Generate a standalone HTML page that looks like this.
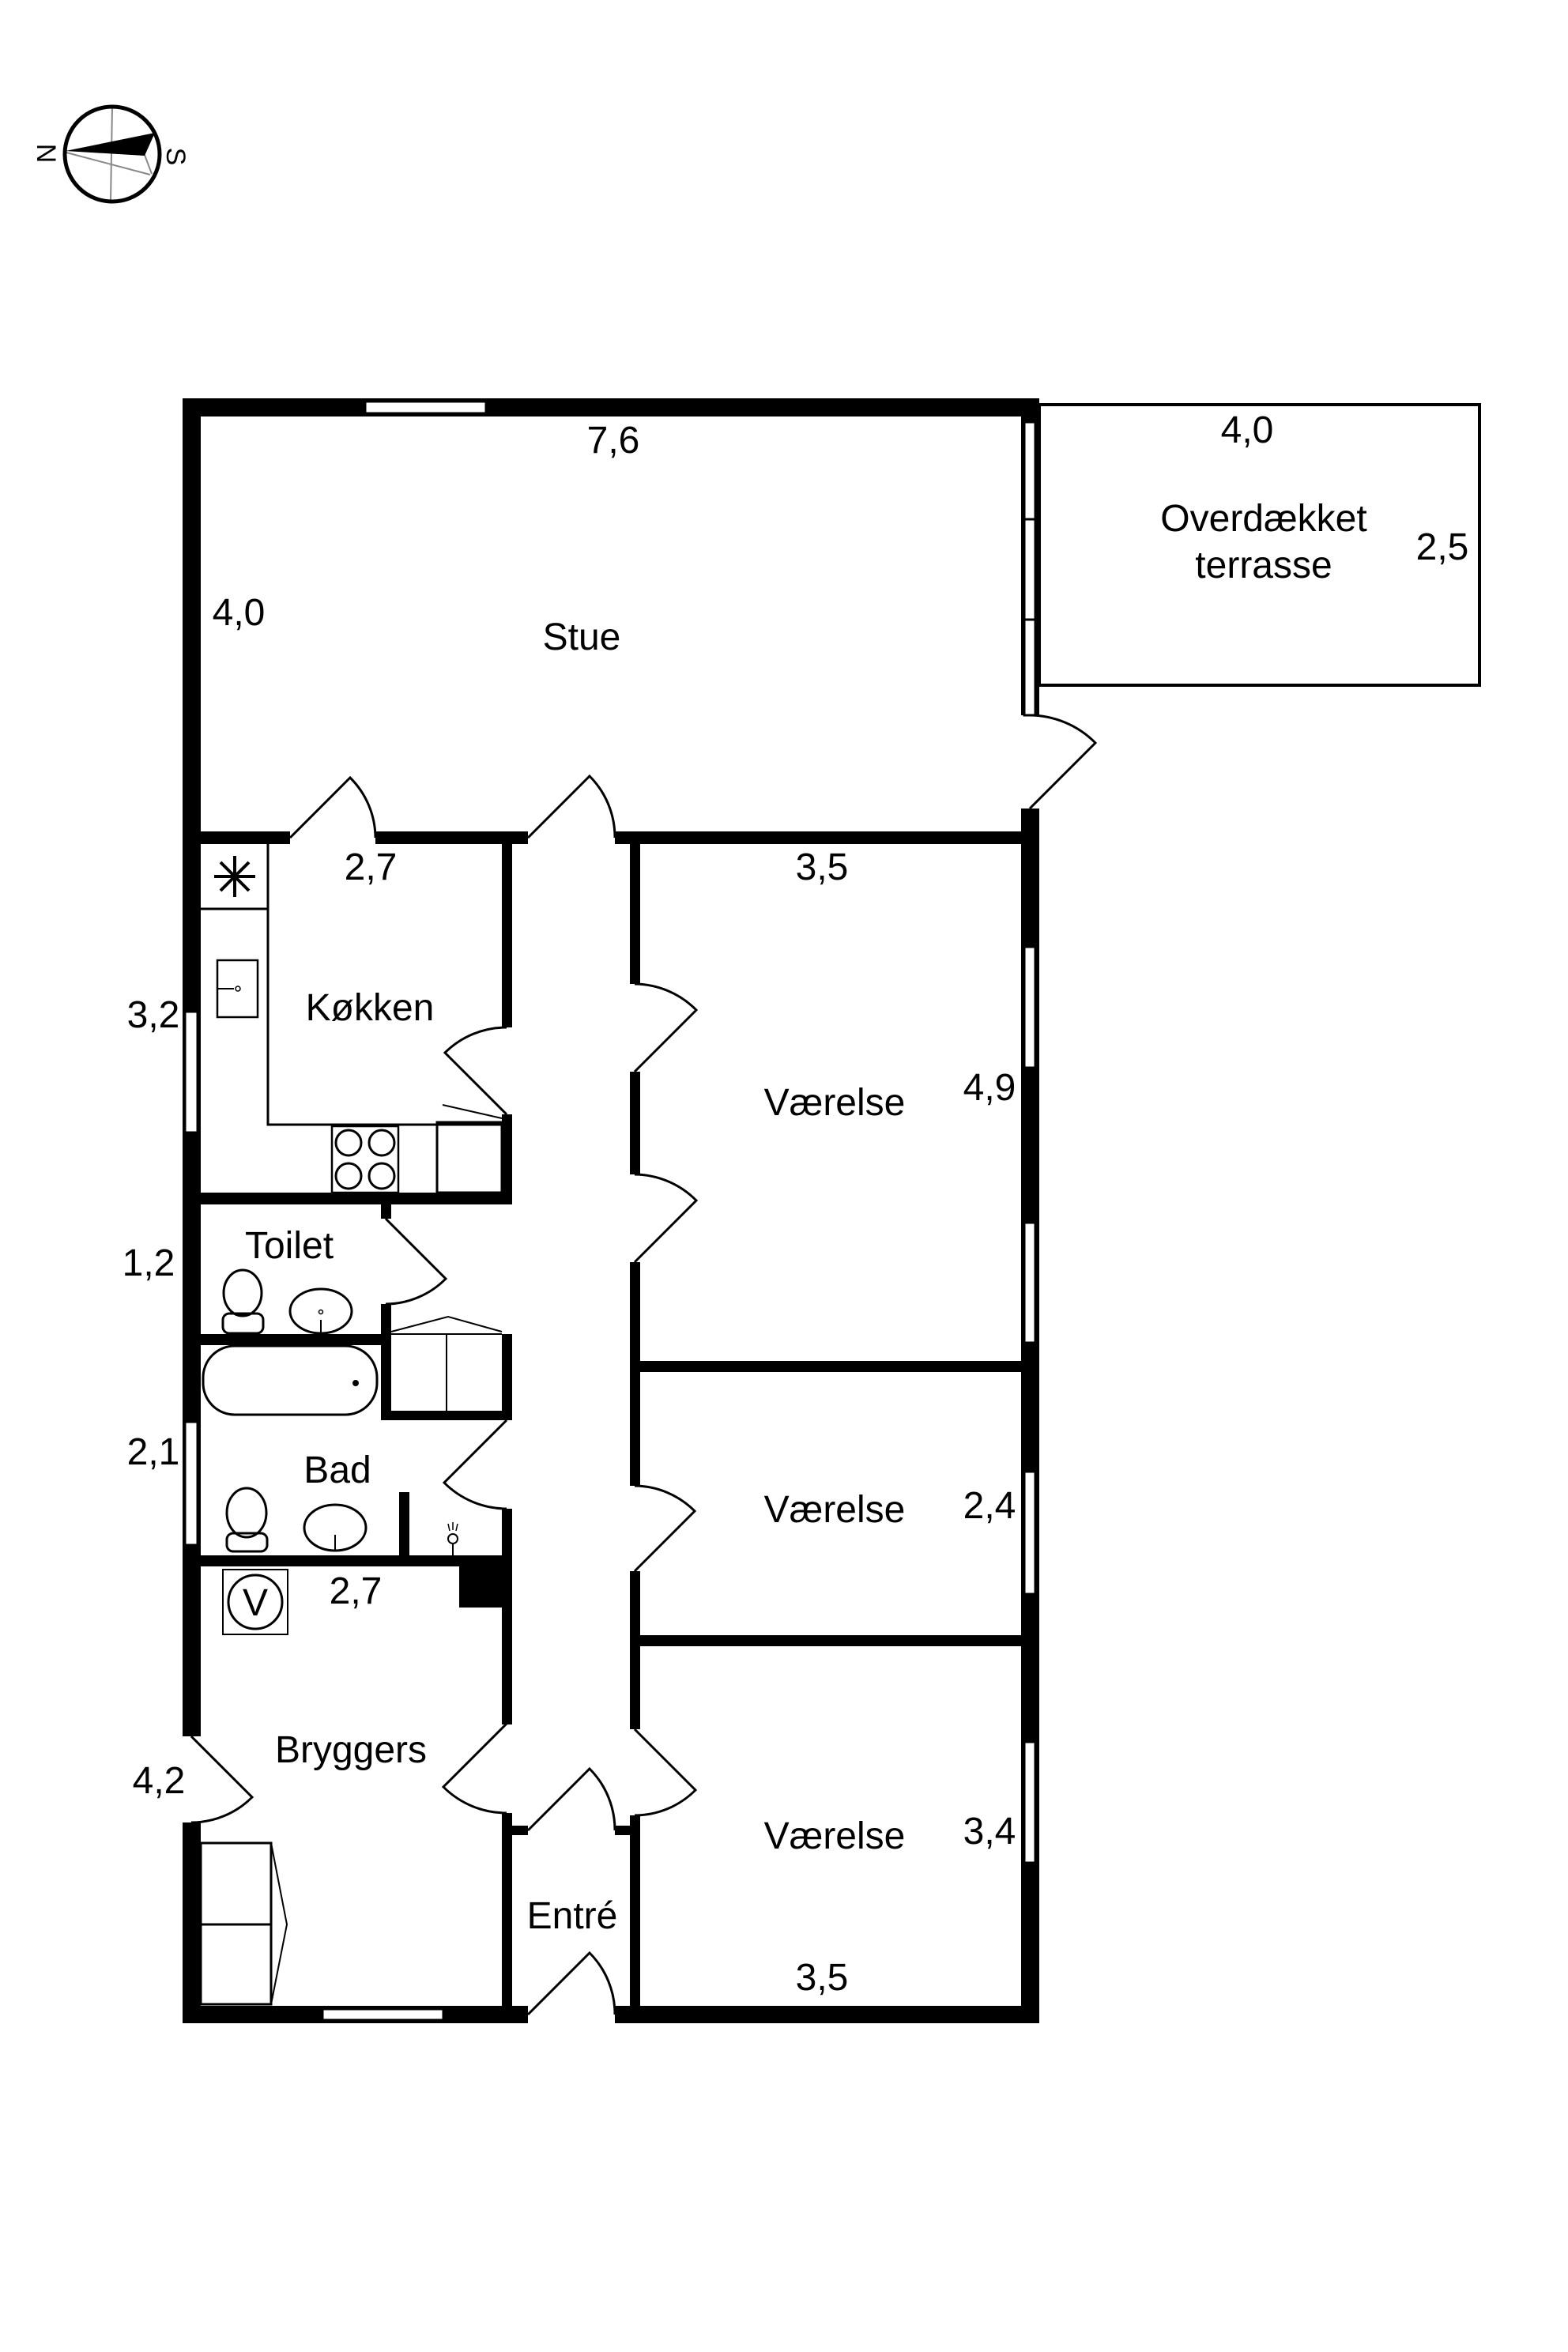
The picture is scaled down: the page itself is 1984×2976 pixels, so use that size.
<!DOCTYPE html>
<html><head><meta charset="utf-8"><style>
html,body{margin:0;padding:0;background:#fff;}
svg{display:block;}
text{font-family:"Liberation Sans",Arial,sans-serif;font-size:48px;fill:#000;text-anchor:middle;}
</style></head><body>
<svg width="1984" height="2976" viewBox="0 0 1984 2976" xmlns="http://www.w3.org/2000/svg">
<rect width="1984" height="2976" fill="#fff"/>

<!-- compass -->
<g>
<line x1="142" y1="135" x2="140" y2="255" stroke="#888" stroke-width="2"/>
<line x1="84" y1="193" x2="190" y2="221" stroke="#888" stroke-width="2"/>
<line x1="183" y1="196" x2="192" y2="220" stroke="#888" stroke-width="2"/>
<polygon points="83,191 196,168 183,197" fill="#000"/>
<circle cx="142" cy="195" r="60" fill="none" stroke="#000" stroke-width="5"/>
<text x="59" y="194" transform="rotate(90 59 194)" style="font-size:34px" dy="12">N</text>
<text x="223" y="198" transform="rotate(90 223 198)" style="font-size:34px" dy="12">S</text>
</g>

<!-- terrace -->
<rect x="1315" y="512" width="557" height="355" fill="none" stroke="#000" stroke-width="4"/>

<g fill="#000">
<rect x="231" y="504" width="1084" height="23"/>
<rect x="231" y="504" width="23" height="1693"/>
<rect x="231" y="2306" width="23" height="254"/>
<rect x="231" y="2538" width="437" height="22"/>
<rect x="778" y="2538" width="537" height="22"/>
<rect x="1292" y="504" width="23" height="401"/>
<rect x="1292" y="1023" width="23" height="1537"/>
<rect x="254" y="1052" width="113" height="16"/>
<rect x="475" y="1052" width="193" height="16"/>
<rect x="778" y="1052" width="514" height="16"/>
<rect x="635" y="1068" width="13" height="232"/>
<rect x="635" y="1410" width="13" height="114"/>
<rect x="254" y="1509" width="394" height="15"/>
<rect x="482" y="1524" width="13" height="18"/>
<rect x="482" y="1650" width="13" height="147"/>
<rect x="254" y="1688" width="241" height="14"/>
<rect x="482" y="1785" width="166" height="12"/>
<rect x="635" y="1688" width="13" height="109"/>
<rect x="635" y="1909" width="13" height="73"/>
<rect x="254" y="1968" width="394" height="14"/>
<rect x="581" y="1982" width="54" height="52"/>
<rect x="505" y="1888" width="13" height="83"/>
<rect x="635" y="1982" width="13" height="200"/>
<rect x="635" y="2294" width="13" height="255"/>
<rect x="635" y="2310" width="33" height="12"/>
<rect x="778" y="2310" width="32" height="12"/>
<rect x="797" y="1068" width="13" height="177"/>
<rect x="797" y="1356" width="13" height="130"/>
<rect x="797" y="1597" width="13" height="283"/>
<rect x="797" y="1988" width="13" height="200"/>
<rect x="797" y="2297" width="13" height="263"/>
<rect x="810" y="1722" width="482" height="14"/>
<rect x="810" y="2069" width="482" height="14"/>
</g>

<g fill="#fff" stroke="#000" stroke-width="3">
<rect x="462" y="508" width="153" height="15"/>
<rect x="408" y="2542" width="153" height="14"/>
<rect x="234" y="1280" width="16" height="153"/>
<rect x="234" y="1799" width="16" height="156"/>
<rect x="1296" y="534" width="14" height="123"/>
<rect x="1296" y="657" width="14" height="127"/>
<rect x="1296" y="784" width="14" height="121"/>
<rect x="1296" y="1198" width="14" height="153"/>
<rect x="1296" y="1547" width="14" height="152"/>
<rect x="1296" y="1862" width="14" height="155"/>
<rect x="1296" y="2204" width="14" height="153"/>
</g>

<g fill="none" stroke="#000" stroke-width="3">
<path d="M367,1060 L443,984 A108,108 0 0 1 475,1060"/>
<path d="M668,1060 L746,982 A110,110 0 0 1 778,1060"/>
<path d="M1303,1023 L1386,940 A118,118 0 0 0 1303,905"/>
<path d="M641,1410 L563,1332 A110,110 0 0 1 641,1300"/>
<path d="M803,1356 L881,1278 A111,111 0 0 0 803,1245"/>
<path d="M803,1597 L881,1519 A111,111 0 0 0 803,1486"/>
<path d="M488,1542 L564,1618 A108,108 0 0 1 488,1650"/>
<path d="M641,1797 L562,1876 A112,112 0 0 0 641,1909"/>
<path d="M803,1988 L879,1912 A108,108 0 0 0 803,1880"/>
<path d="M242,2197 L319,2274 A109,109 0 0 1 242,2306"/>
<path d="M641,2181 L561,2261 A113,113 0 0 0 641,2294"/>
<path d="M803,2188 L880,2265 A109,109 0 0 1 803,2297"/>
<path d="M668,2316 L746,2238 A110,110 0 0 1 778,2316"/>
<path d="M668,2549 L746,2471 A110,110 0 0 1 778,2549"/>
</g>

<g fill="none" stroke="#000" stroke-width="3">
<polyline points="339,1068 339,1423 635,1423"/>
<line x1="254" y1="1150" x2="339" y2="1150"/>
<rect x="275" y="1215" width="51" height="72" stroke-width="2.5"/>
<circle cx="301" cy="1251" r="3" stroke-width="1.5"/>
<line x1="276" y1="1251" x2="296" y2="1251" stroke-width="2"/>
<rect x="420" y="1425" width="84" height="84" stroke-width="2.5"/>
<circle cx="441" cy="1446" r="16"/><circle cx="483" cy="1446" r="16"/>
<circle cx="441" cy="1488" r="16"/><circle cx="483" cy="1488" r="16"/>
<rect x="553" y="1420" width="82" height="89"/>
<line x1="560" y1="1398" x2="635" y2="1415" stroke-width="2"/>
<g stroke-width="4">
<line x1="297" y1="1083" x2="297" y2="1135"/>
<line x1="271" y1="1109" x2="323" y2="1109"/>
<line x1="279" y1="1091" x2="315" y2="1127"/>
<line x1="279" y1="1127" x2="315" y2="1091"/>
</g>
<ellipse cx="307" cy="1636" rx="24" ry="29"/>
<rect x="282" y="1662" width="51" height="25" rx="8"/>
<ellipse cx="406" cy="1659" rx="39" ry="28"/>
<circle cx="406" cy="1660" r="2.5" stroke-width="1.5"/>
<line x1="406" y1="1670" x2="406" y2="1687" stroke-width="2"/>
<rect x="257" y="1703" width="220" height="87" rx="40"/>
<circle cx="450" cy="1750" r="2.5" fill="#000"/>
<line x1="495" y1="1688" x2="635" y2="1688" stroke-width="2"/>
<polyline points="495,1685 567,1666 635,1685" stroke-width="2"/>
<line x1="565" y1="1688" x2="565" y2="1785" stroke-width="2"/>
<ellipse cx="312" cy="1914" rx="25" ry="31"/>
<rect x="287" y="1940" width="51" height="23" rx="8"/>
<ellipse cx="424" cy="1933" rx="39" ry="29"/>
<line x1="424" y1="1942" x2="424" y2="1962" stroke-width="2"/>
<circle cx="573" cy="1947" r="6" stroke-width="2"/>
<line x1="573" y1="1953" x2="573" y2="1968" stroke-width="2"/>
<line x1="567" y1="1928" x2="569" y2="1937" stroke-width="1.5"/>
<line x1="573" y1="1926" x2="573" y2="1936" stroke-width="1.5"/>
<line x1="579" y1="1928" x2="577" y2="1937" stroke-width="1.5"/>
<rect x="282" y="1986" width="82" height="82" stroke-width="2"/>
<circle cx="323" cy="2027" r="34"/>
<rect x="254" y="2332" width="89" height="204"/>
<line x1="254" y1="2435" x2="343" y2="2435"/>
<polyline points="343,2332 363,2435 343,2536" stroke-width="2"/>
</g>
<text x="323" y="2044" style="font-size:48px">V</text>

<text x="776" y="573">7,6</text>
<text x="736" y="822">Stue</text>
<text x="302" y="791">4,0</text>
<text x="469" y="1113">2,7</text>
<text x="1040" y="1113">3,5</text>
<text x="468" y="1291">Køkken</text>
<text x="194" y="1300">3,2</text>
<text x="1056" y="1411">Værelse</text>
<text x="1252" y="1392">4,9</text>
<text x="366" y="1592">Toilet</text>
<text x="188" y="1614">1,2</text>
<text x="194" y="1853">2,1</text>
<text x="427" y="1876">Bad</text>
<text x="450" y="2029">2,7</text>
<text x="444" y="2230">Bryggers</text>
<text x="201" y="2269">4,2</text>
<text x="724" y="2440">Entré</text>
<text x="1056" y="1926">Værelse</text>
<text x="1252" y="1921">2,4</text>
<text x="1056" y="2339">Værelse</text>
<text x="1252" y="2333">3,4</text>
<text x="1040" y="2518">3,5</text>
<text x="1578" y="560">4,0</text>
<text x="1599" y="672">Overdækket</text>
<text x="1599" y="731">terrasse</text>
<text x="1825" y="708">2,5</text>
</svg>
</body></html>
